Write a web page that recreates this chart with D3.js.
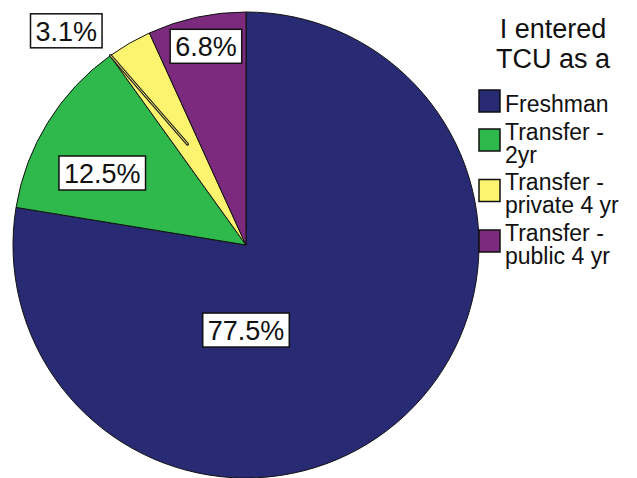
<!DOCTYPE html>
<html>
<head>
<meta charset="utf-8">
<script src="https://cdn.jsdelivr.net/npm/d3@7"></script>
<style>
  html, body { margin: 0; padding: 0; background: #fff; }
  svg { display: block; }
  text { font-family: "Liberation Sans", Arial, sans-serif; fill: #111; }
</style>
</head>
<body>
<svg id="chart" width="637" height="478"></svg>
<script>
// ---- data ----
const categories = ["Freshman", "Transfer - 2yr", "Transfer - private 4 yr", "Transfer - public 4 yr"];
const percents = [77.5, 12.5, 3.1, 6.8];
const legendTitle = ["I entered", "TCU as a"];

// ---- styling / layout (not data) ----
const colors = ["#282a73", "#2fb84c", "#fcf46e", "#7c2a7e"];
const W = 637, H = 478;
const cx = 246, cy = 245, R = 233;
// label placement: [angle in degrees clockwise from top, radius fraction]
const labelPlacement = [[180, 0.365], [296.6, 0.69], [320, 1.2], [348.6, 0.87]];

const svg = d3.select("#chart");
const g = svg.append("g").attr("transform", `translate(${cx},${cy})`);

const pie = d3.pie().sort(null).value(d => d)(percents);
const arc = d3.arc().innerRadius(0).outerRadius(R);

g.selectAll("path.slice")
  .data(pie)
  .join("path")
  .attr("class", "slice")
  .attr("d", arc)
  .attr("fill", (d, i) => colors[i])
  .attr("stroke", "#111")
  .attr("stroke-width", 1)
  .attr("stroke-linejoin", "round");

// leader line for small yellow slice
const ys = pie[2];
const pOuter = d3.pointRadial(ys.startAngle + 0.002, R);
const pInner = d3.arc().innerRadius(R * 0.5).outerRadius(R * 0.5).centroid(ys);
g.append("line")
  .attr("x1", pOuter[0]).attr("y1", pOuter[1])
  .attr("x2", pInner[0]).attr("y2", pInner[1])
  .attr("stroke", "#222").attr("stroke-width", 3).attr("stroke-linecap", "round");
g.append("line")
  .attr("x1", pOuter[0]).attr("y1", pOuter[1])
  .attr("x2", pInner[0]).attr("y2", pInner[1])
  .attr("stroke", colors[2]).attr("stroke-width", 1);

// value labels in boxes
const fmt = v => v.toFixed(1) + "%";
const labels = g.selectAll("g.lbl")
  .data(pie)
  .join("g")
  .attr("class", "lbl")
  .attr("transform", (d, i) => {
    const [a, k] = labelPlacement[i];
    const p = d3.pointRadial(a * Math.PI / 180, R * k);
    return `translate(${p[0]},${p[1]})`;
  });

labels.each(function(d, i) {
  const sel = d3.select(this);
  const t = sel.append("text")
    .attr("text-anchor", "middle")
    .attr("dy", "0.36em")
    .attr("font-size", 27)
    .text(fmt(percents[i]));
  const bb = t.node().getBBox();
  sel.insert("rect", "text")
    .attr("x", -bb.width / 2 - 5)
    .attr("y", -17)
    .attr("width", bb.width + 10)
    .attr("height", 34)
    .attr("fill", "#fff")
    .attr("stroke", "#111")
    .attr("stroke-width", 1.5);
});

// legend title
const lt = svg.append("text")
  .attr("text-anchor", "middle")
  .attr("font-size", 27);
legendTitle.forEach((s, i) => {
  lt.append("tspan").attr("x", 553).attr("y", 38 + i * 30).text(s);
});

// legend items
const lineH = 23, itemGap = 27.5;
let baseY = 112;
categories.forEach((c, i) => {
  const parts = c.includes(" - ") ? [c.split(" - ")[0] + " -", c.split(" - ")[1]] : [c];
  const first = baseY, last = baseY + (parts.length - 1) * lineH;
  const midY = (first + last) / 2 - 11;
  svg.append("rect")
    .attr("x", 479).attr("y", midY - 11)
    .attr("width", 21).attr("height", 22)
    .attr("fill", colors[i])
    .attr("stroke", "#111").attr("stroke-width", 1.5);
  const t = svg.append("text").attr("font-size", 23);
  parts.forEach((p, j) => {
    t.append("tspan").attr("x", 505).attr("y", first + j * lineH).text(p);
  });
  baseY = last + itemGap;
});
</script>
</body>
</html>
